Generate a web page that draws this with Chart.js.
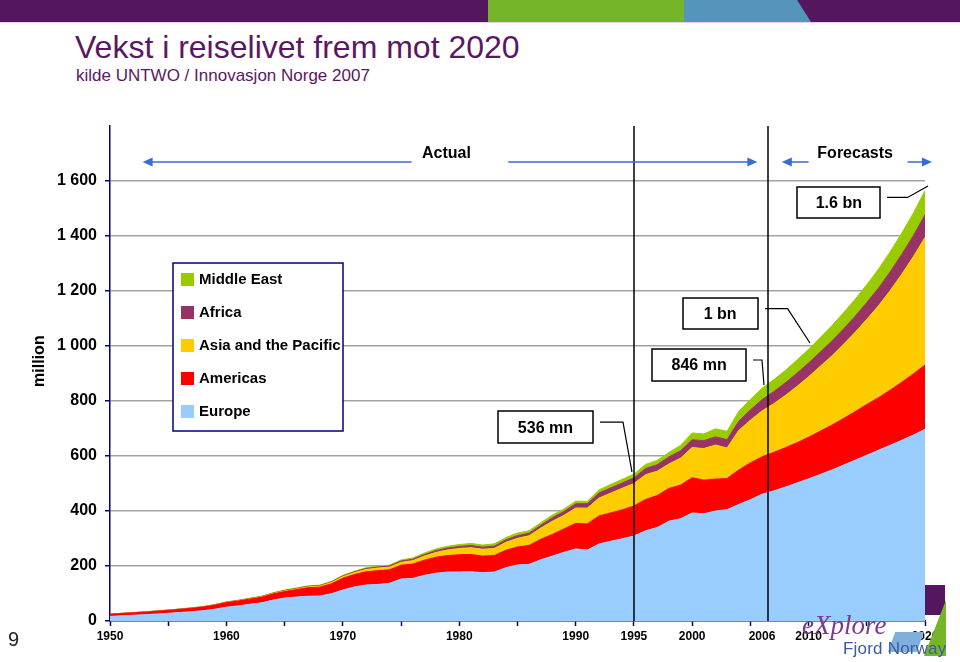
<!DOCTYPE html>
<html lang="no">
<head>
<meta charset="UTF-8">
<title>Vekst i reiselivet frem mot 2020</title>
<script src="https://cdn.jsdelivr.net/npm/chart.js@4"></script>
<style>
    body {
        margin: 0;
        background: #fff;
        font-family: "Liberation Sans", Arial, sans-serif;
    }
    .page { position: relative; width: 960px; height: 662px; overflow: hidden; }
    .band { position: absolute; top: 0; height: 22px; }
    .title { position: absolute; left: 75px; top: 31px; font-size: 32px; line-height: 1; color: #5a1864; white-space: nowrap; }
    .subtitle { position: absolute; left: 76px; top: 67px; font-size: 17px; line-height: 1; color: #5a1864; white-space: nowrap; }
    .chart-box { position: absolute; left: 0; top: 0; width: 960px; height: 662px; }
    .pageno { position: absolute; left: 8px; top: 628px; font-size: 20px; color: #222; }
    .logo-ex { position: absolute; left: 802px; top: 612px; font-family: "Liberation Serif", serif; font-style: italic; font-size: 27px; color: #7b3a8e; line-height: 1; }
    .logo-fn { position: absolute; left: 843px; top: 640px; font-size: 17px; color: #3d5aa0; line-height: 1; letter-spacing: 0.2px; }
    .shape { position: absolute; }
</style>
</head>
<body>
<div class="page">
    <div class="band" style="left:0;width:960px;background:#54175f;"></div>
    <div class="band" style="left:488px;width:196px;background:#76b52a;"></div>
    <div class="band" style="left:684px;width:127px;background:#5595bc;clip-path:polygon(0 0,113px 0,127px 100%,0 100%);"></div>
    <div class="shape" style="left:0;top:22px;width:960px;height:1px;background:#e3d3e4;"></div>

    <div class="title">Vekst i reiselivet frem mot 2020</div>
    <div class="subtitle">kilde UNTWO / Innovasjon Norge 2007</div>

    <div class="chart-box"><canvas id="tourismChart"></canvas></div>

    <div class="pageno">9</div>
    <div class="shape" style="left:925px;top:585px;width:20px;height:30px;background:#54175f;"></div>
    <div class="shape" style="left:924px;top:600px;width:22px;height:56px;background:#76b52a;clip-path:polygon(100% 0,100% 100%,0 100%);"></div>
    <div class="shape" style="left:888px;top:632px;width:36px;height:20px;background:#7fb0dc;clip-path:polygon(20% 0,100% 0,80% 100%,0 100%);"></div>
    <div class="logo-ex">eXplore</div>
    <div class="logo-fn">Fjord Norway</div>
</div>

<script>
    // years on the x axis (actuals up to 2006, forecasts after)
    const years = [
        1950, 1951, 1952, 1953, 1954, 1955, 1956, 1957, 1958, 1959,
        1960, 1961, 1962, 1963, 1964, 1965, 1966, 1967, 1968, 1969,
        1970, 1971, 1972, 1973, 1974, 1975, 1976, 1977, 1978, 1979,
        1980, 1981, 1982, 1983, 1984, 1985, 1986, 1987, 1988, 1989,
        1990, 1991, 1992, 1993, 1994, 1995, 1996, 1997, 1998, 1999,
        2000, 2001, 2002, 2003, 2004, 2005, 2006, 2007, 2008, 2009,
        2010, 2011, 2012, 2013, 2014, 2015, 2016, 2017, 2018, 2019,
        2020
    ];

    // international arrivals, million
    const europe = [
        16.8, 19, 21, 23, 25.5, 28, 31, 34, 37.5, 43,
        50.4, 55, 61, 66, 76, 83.7, 87, 90, 91, 99,
        113, 124, 131, 133, 137, 153, 155, 166, 174, 178,
        178.5, 179, 176, 178, 194, 204, 206, 223, 236, 250,
        262, 258, 280, 290, 299, 309, 328, 340, 363, 372,
        393, 390, 400, 405, 424, 441, 461, 473, 487, 502,
        517, 533, 549, 567, 585, 603, 621, 639, 657, 676,
        697
    ];
    const americas = [
        7.5, 8, 8.6, 9.2, 9.8, 10.5, 11.2, 12, 13, 14.5,
        16.7, 17.5, 18.5, 20, 22, 23.5, 27, 31, 32, 36,
        42.3, 45, 48, 50, 49, 50, 52, 55, 58, 60,
        62.3, 63, 60, 60, 63, 65, 69, 74, 79, 85,
        92.8, 95, 102, 103, 105, 109, 114, 116, 119, 122,
        128, 122, 116, 113, 125, 134, 136, 140, 143, 146,
        151, 157, 163, 169, 176, 184, 191, 200, 211, 222,
        234
    ];
    const asiaPacific = [
        0.2, 0.25, 0.3, 0.35, 0.4, 0.5, 0.55, 0.6, 0.7, 0.8,
        0.9, 1.1, 1.3, 1.5, 1.8, 2.1, 2.6, 3.2, 3.8, 4.9,
        6.2, 7, 8.5, 9.5, 9.8, 10.2, 12.5, 15, 17.5, 20.5,
        23, 24.5, 25, 26, 29, 31.8, 35, 41, 48, 49.5,
        56.2, 57.5, 65, 72, 79, 82, 90, 89, 89, 98,
        110, 115, 124, 111, 144, 155, 167, 177, 190, 205,
        220, 236, 252, 270, 289, 310, 334, 362, 393, 427,
        464
    ];
    const africa = [
        0.5, 0.55, 0.6, 0.62, 0.65, 0.7, 0.72, 0.75, 0.77, 0.78,
        0.8, 0.9, 1.0, 1.1, 1.2, 1.4, 1.5, 1.6, 1.8, 2.1,
        2.4, 2.8, 3.3, 3.7, 4.2, 4.7, 5.0, 5.5, 6.3, 6.9,
        7.2, 8.1, 7.6, 8.3, 9.0, 9.7, 9.4, 10.0, 12.6, 13.8,
        15.2, 16.3, 18.2, 18.8, 19.1, 20.1, 22.4, 23.3, 25.7, 26.7,
        28.2, 28.9, 29.5, 30.7, 33.3, 37.3, 41, 44, 46, 48,
        50, 52, 54, 56, 58, 61, 64, 68, 72, 76,
        82
    ];
    const middleEast = [
        0.2, 0.22, 0.25, 0.28, 0.3, 0.35, 0.4, 0.45, 0.5, 0.55,
        0.6, 0.8, 1.0, 1.3, 1.6, 2.1, 2.2, 2.0, 1.7, 1.8,
        1.9, 2.4, 2.8, 3.0, 3.4, 4.1, 4.6, 5.6, 6.3, 6.6,
        7.1, 7.5, 7.6, 8.2, 8.4, 9.2, 8.9, 9.5, 9.7, 9.2,
        9.6, 8.4, 11.7, 12.7, 13.4, 13.7, 15.1, 15.6, 16.0, 19.9,
        24.5, 24.1, 29.2, 30.0, 36.3, 38.0, 41, 43, 45, 48,
        50, 53, 56, 59, 62, 65, 69, 73, 77, 82,
        88
    ];

    const seriesNames = ['Europe', 'Americas', 'Asia and the Pacific', 'Africa', 'Middle East'];
    const seriesValues = [europe, americas, asiaPacific, africa, middleEast];
    const seriesColors = ['#99ccff', '#ff0000', '#ffcc00', '#993366', '#99cc00'];

    // x axis ticks and which of them get a label
    const tickYears = [1950, 1955, 1960, 1965, 1970, 1975, 1980, 1985, 1990, 1995, 2000, 2005, 2006, 2010, 2015, 2020];
    const labelYears = [1950, 1960, 1970, 1980, 1990, 1995, 2000, 2006, 2010, 2020];
    const unlabeledTick = 2006;  // has a label but no tick mark
    const yTicks = [0, 200, 400, 600, 800, 1000, 1200, 1400, 1600];

    // vertical marker lines
    const markerYears = [1995, 2006.5];

    const navy = '#000080';
    const arrowBlue = '#3a6bd8';
    const FONT = '"Liberation Sans", Arial, sans-serif';

    // period arrows above the plot (positions in data units)
    const periods = [
        { label: 'Actual', from: 1952.8, to: 2005.6, gapFrom: 1975.9, gapTo: 1984.2, mid: 1978.9 },
        { label: 'Forecasts', from: 2007.7, to: 2020.6, gapFrom: 2010.0, gapTo: 2018.5, mid: 2014.0 }
    ];
    const periodArrowValue = 1669;
    const periodTextValue = 1698;

    // call-out boxes: centre (year, value), size in px, elbow and anchor of leader line
    const callouts = [
        { text: '536 mn', cx: 1987.4, cy: 705, w: 95, h: 32, elbow: 1994.06, ax: 1994.83, ay: 542 },
        { text: '846 mn', cx: 2000.6, cy: 931, w: 94, h: 32, elbow: 2006.0, ax: 2006.17, ay: 858 },
        { text: '1 bn', cx: 2002.4, cy: 1118, w: 75, h: 31, elbow: 2008.2, ax: 2010.12, ay: 1011 },
        { text: '1.6 bn', cx: 2012.6, cy: 1522, w: 83, h: 31, elbow: 2018.5, ax: 2020.26, ay: 1582 }
    ];

    function fmtThousands(v) {
        if (v >= 1000) {
            return Math.floor(v / 1000) + ' ' + String(v % 1000).padStart(3, '0');
        }
        return String(v);
    }

    function arrowHead(ctx, x, y, dir) {
        ctx.beginPath();
        ctx.moveTo(x, y);
        ctx.lineTo(x - dir * 10, y - 4.5);
        ctx.lineTo(x - dir * 10, y + 4.5);
        ctx.closePath();
        ctx.fill();
    }

    const overlay = {
        id: 'overlay',
        afterDatasetsDraw(chart) {
            const { ctx, chartArea, scales: { x, y } } = chart;
            ctx.save();

            // marker lines
            ctx.strokeStyle = '#000';
            ctx.lineWidth = 1.5;
            markerYears.forEach(yr => {
                const px = Math.round(x.getPixelForValue(yr));
                ctx.beginPath();
                ctx.moveTo(px, chartArea.top);
                ctx.lineTo(px, chartArea.bottom);
                ctx.stroke();
            });

            // period arrows
            const ay = y.getPixelForValue(periodArrowValue);
            const ty = y.getPixelForValue(periodTextValue);
            ctx.strokeStyle = arrowBlue;
            ctx.fillStyle = arrowBlue;
            ctx.lineWidth = 1.5;
            periods.forEach(p => {
                const x0 = x.getPixelForValue(p.from), x1 = x.getPixelForValue(p.gapFrom);
                const x2 = x.getPixelForValue(p.gapTo), x3 = x.getPixelForValue(p.to);
                ctx.beginPath();
                ctx.moveTo(x1, ay); ctx.lineTo(x0 + 6, ay);
                ctx.moveTo(x2, ay); ctx.lineTo(x3 - 6, ay);
                ctx.stroke();
                arrowHead(ctx, x0, ay, -1);
                arrowHead(ctx, x3, ay, 1);
            });
            ctx.fillStyle = '#000';
            ctx.font = 'bold 16px ' + FONT;
            ctx.textAlign = 'center';
            ctx.textBaseline = 'middle';
            periods.forEach(p => ctx.fillText(p.label, x.getPixelForValue(p.mid), ty));

            // call-outs
            callouts.forEach(c => {
                const cx = x.getPixelForValue(c.cx), cy = y.getPixelForValue(c.cy);
                const left = Math.round(cx - c.w / 2), top = Math.round(cy - c.h / 2);
                ctx.fillStyle = '#fff';
                ctx.fillRect(left, top, c.w, c.h);
                ctx.strokeStyle = '#000';
                ctx.lineWidth = 1.5;
                ctx.strokeRect(left, top, c.w, c.h);
                ctx.fillStyle = '#000';
                ctx.fillText(c.text, cx, cy + 1);
                const ly = cy - 5;
                ctx.beginPath();
                ctx.moveTo(left + c.w + 7, ly);
                ctx.lineTo(x.getPixelForValue(c.elbow), ly);
                ctx.lineTo(x.getPixelForValue(c.ax), y.getPixelForValue(c.ay));
                ctx.lineWidth = 1.2;
                ctx.stroke();
            });

            // legend box
            const lx = chartArea.left + 63, ly0 = chartArea.top + 137;
            ctx.fillStyle = '#fff';
            ctx.fillRect(lx, ly0, 170, 168);
            ctx.strokeStyle = navy;
            ctx.lineWidth = 1.5;
            ctx.strokeRect(lx, ly0, 170, 168);
            ctx.textAlign = 'left';
            ctx.font = 'bold 15px ' + FONT;
            for (let i = 0; i < seriesNames.length; i++) {
                const k = seriesNames.length - 1 - i;
                const rowY = ly0 + 17 + i * 33;
                ctx.fillStyle = seriesColors[k];
                ctx.fillRect(lx + 8, rowY - 7, 13, 13);
                ctx.fillStyle = '#000';
                ctx.fillText(seriesNames[k], lx + 26, rowY);
            }

            // axis title
            ctx.save();
            ctx.translate(40, y.getPixelForValue(945));
            ctx.rotate(-Math.PI / 2);
            ctx.textAlign = 'center';
            ctx.font = 'bold 16px ' + FONT;
            ctx.fillText('million', 0, 0);
            ctx.restore();

            ctx.restore();
        }
    };

    const datasets = seriesNames.map((name, i) => ({
        label: name,
        data: years.map((yr, j) => ({ x: yr, y: seriesValues[i][j] })),
        backgroundColor: seriesColors[i],
        borderColor: seriesColors[i],
        borderWidth: 1,
        pointRadius: 0,
        fill: i === 0 ? 'origin' : '-1',
        tension: 0
    }));

    new Chart(document.getElementById('tourismChart'), {
        type: 'line',
        data: { datasets: datasets },
        options: {
            responsive: true,
            maintainAspectRatio: false,
            animation: false,
            layout: { padding: { top: 126, right: 35, bottom: 0, left: 0 } },
            plugins: {
                legend: { display: false },
                tooltip: { enabled: false }
            },
            scales: {
                x: {
                    type: 'linear',
                    min: 1950,
                    max: 2020,
                    afterFit: s => { s.height = 41; },
                    afterBuildTicks: s => { s.ticks = tickYears.map(v => ({ value: v })); },
                    ticks: {
                        autoSkip: false,
                        maxRotation: 0,
                        padding: 3,
                        color: '#000',
                        font: { family: FONT, size: 12, weight: 'bold' },
                        callback: v => labelYears.includes(v) ? String(v) : ''
                    },
                    grid: {
                        drawOnChartArea: false,
                        tickLength: 5,
                        tickWidth: 1.5,
                        tickColor: c => (c.tick && c.tick.value === unlabeledTick) ? 'rgba(0,0,0,0)' : navy
                    },
                    border: { color: navy, width: 1.5 }
                },
                y: {
                    stacked: true,
                    min: 0,
                    max: 1800,
                    afterFit: s => { s.width = 110; },
                    afterBuildTicks: s => { s.ticks = yTicks.map(v => ({ value: v })); },
                    ticks: {
                        padding: 8,
                        color: '#000',
                        font: { family: FONT, size: 16, weight: 'bold' },
                        callback: v => fmtThousands(v)
                    },
                    grid: {
                        color: c => (c.tick && c.tick.value === 0) ? 'rgba(0,0,0,0)' : '#a3a3a3',
                        lineWidth: 1.5,
                        tickLength: 5,
                        tickWidth: 1.5,
                        tickColor: navy
                    },
                    border: { color: navy, width: 1.5 }
                }
            }
        },
        plugins: [overlay]
    });
</script>
</body>
</html>
